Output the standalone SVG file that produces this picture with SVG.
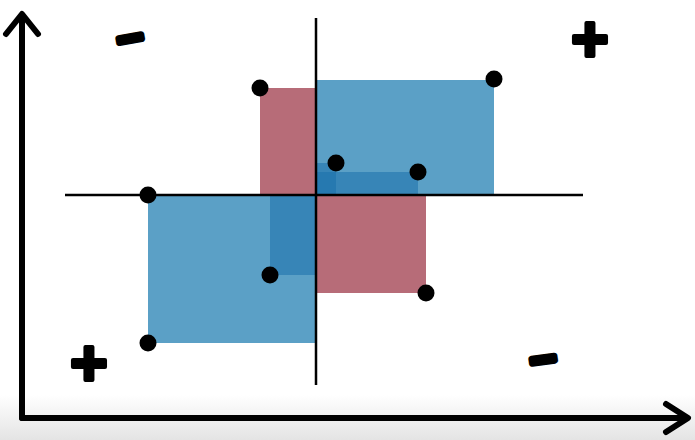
<svg xmlns="http://www.w3.org/2000/svg" width="695" height="440" viewBox="0 0 695 440">
  <defs>
    <linearGradient id="shade" x1="0" y1="0" x2="0" y2="1">
      <stop offset="0" stop-color="#ffffff"/>
      <stop offset="1" stop-color="#e4e4e4"/>
    </linearGradient>
    <style>
      .blue { fill: #5ba0c6; }
      .dblue { fill: #1a6fab; fill-opacity: 0.55; }
      .red { fill: #b76c78; }
      .ax { stroke: #000; stroke-width: 6; fill: none; stroke-linecap: round; stroke-linejoin: round; }
      .mid { stroke: #000; stroke-width: 2.5; }
      .dot { fill: #000; }
      .sign { font-family: "Liberation Sans", Arial, sans-serif; font-weight: bold; fill: #000; stroke: #000; stroke-linejoin: round; stroke-linecap: round; text-anchor: middle; }
    </style>
  </defs>
  <rect width="695" height="440" fill="#ffffff"/>
  <rect x="0" y="395" width="695" height="45" fill="url(#shade)"/>

  <g id="rects">
    <rect class="red" x="260" y="88" width="56" height="107"/>
    <rect class="red" x="316" y="195" width="110" height="98"/>
    <rect class="blue" x="316" y="80" width="178" height="115"/>
    <rect class="blue" x="148" y="195" width="168" height="148"/>
    <rect class="dblue" x="316" y="163" width="20" height="32"/>
    <rect class="dblue" x="316" y="172" width="102" height="23"/>
    <rect class="dblue" x="270" y="195" width="46" height="80"/>
  </g>

  <g id="axes">
    <path class="ax" d="M22 418 V16 M6 34 L22 14 L38 34"/>
    <path class="ax" d="M22 418 H686 M666 404 L688 418 L666 432"/>
    <line class="mid" x1="316" y1="18" x2="316" y2="385"/>
    <line class="mid" x1="65" y1="195" x2="583" y2="195"/>
  </g>

  <g id="points">
    <circle class="dot" cx="260" cy="88" r="8.5"/>
    <circle class="dot" cx="494" cy="79" r="8.5"/>
    <circle class="dot" cx="336" cy="163" r="8.5"/>
    <circle class="dot" cx="418" cy="172" r="8.5"/>
    <circle class="dot" cx="148" cy="195" r="8.5"/>
    <circle class="dot" cx="270" cy="275" r="8.5"/>
    <circle class="dot" cx="426" cy="293" r="8.5"/>
    <circle class="dot" cx="148" cy="343" r="8.5"/>
  </g>

  <g id="signs">
    <text class="sign" x="130" y="51" font-size="46" stroke-width="6.5" transform="rotate(-10 130 37)">–</text>
    <text class="sign" x="590" y="61" font-size="64" stroke-width="4">+</text>
    <text class="sign" x="89" y="385" font-size="64" stroke-width="4">+</text>
    <text class="sign" x="543" y="372" font-size="46" stroke-width="6.5" transform="rotate(-8 543 358)">–</text>
  </g>
</svg>
